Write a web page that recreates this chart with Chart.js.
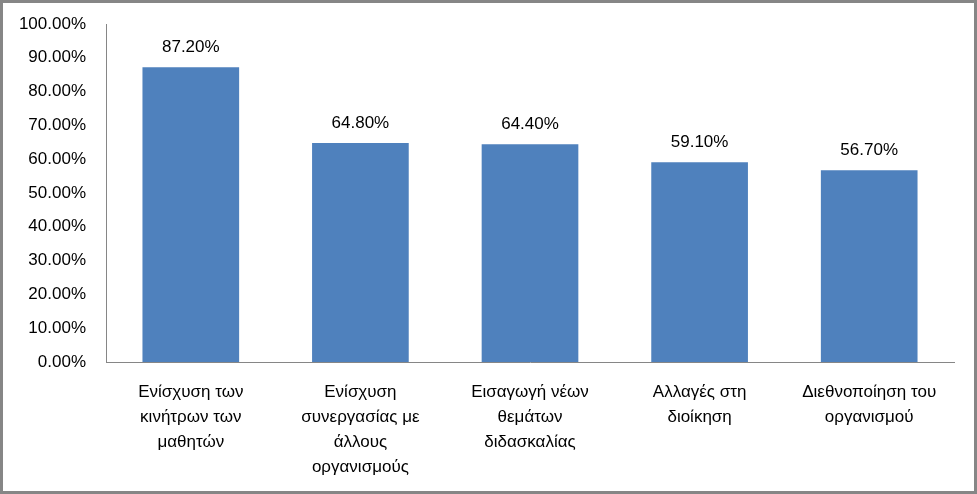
<!DOCTYPE html>
<html><head><meta charset="utf-8">
<script src="https://cdn.jsdelivr.net/npm/chart.js@4"></script>
<style>html,body{margin:0;padding:0;background:#fff}#wrap{width:977px;height:494px;position:relative}</style>
</head><body><div id="wrap"><canvas id="c" width="977" height="494"></canvas></div>
<script>
const categories = [
  ["Ενίσχυση των","κινήτρων των","μαθητών"],
  ["Ενίσχυση","συνεργασίας με","άλλους","οργανισμούς"],
  ["Εισαγωγή νέων","θεμάτων","διδασκαλίας"],
  ["Αλλαγές στη","διοίκηση"],
  ["Διεθνοποίηση του","οργανισμού"]
];
const values = [87.2, 64.8, 64.4, 59.1, 56.7];
const yTicks = [0,10,20,30,40,50,60,70,80,90,100];

const FONT = "'Liberation Sans', Arial, sans-serif";

const labelsPlugin = {
  id: 'valueLabels',
  afterDatasetsDraw(chart) {
    const ctx = chart.ctx;
    const meta = chart.getDatasetMeta(0);
    ctx.save();
    ctx.font = "17px " + FONT;
    ctx.fillStyle = '#000';
    ctx.textAlign = 'center';
    ctx.textBaseline = 'middle';
    meta.data.forEach((bar, i) => {
      ctx.fillText(values[i].toFixed(2) + '%', bar.x, bar.y - 20);
    });
    ctx.restore();
  }
};
const framePlugin = {
  id: 'frame',
  afterDraw(chart) {
    const ctx = chart.ctx;
    ctx.save();
    ctx.strokeStyle = '#868686';
    ctx.lineWidth = 3;
    ctx.strokeRect(1.5, 1.5, chart.width - 3, chart.height - 3);
    ctx.restore();
  }
};

new Chart(document.getElementById('c'), {
  type: 'bar',
  data: {
    labels: categories,
    datasets: [{
      data: values,
      backgroundColor: '#4F81BD',
      categoryPercentage: 1,
      barPercentage: 0.57
    }]
  },
  options: {
    responsive: false,
    animation: false,
    events: [],
    layout: { padding: { top: 24, right: 23, left: 0, bottom: 0 } },
    plugins: { legend: { display: false }, tooltip: { enabled: false } },
    scales: {
      x: {
        grid: { display: false },
        border: { display: true, color: '#868686', width: 1 },
        ticks: { color: '#000', font: { family: FONT, size: 17, lineHeight: 1.47 }, maxRotation: 0, autoSkip: false, padding: 10 },
        afterFit(s) { s.height = 132; }
      },
      y: {
        min: 0, max: 100,
        grid: { display: false },
        border: { display: true, color: '#868686', width: 1 },
        afterBuildTicks(s) { s.ticks = yTicks.map(v => ({ value: v })); },
        ticks: {
          color: '#000', font: { family: FONT, size: 17 }, padding: 12,
          callback: v => v.toFixed(2) + '%'
        },
        afterFit(s) { s.width = 106; s.paddingTop = 0; }
      }
    }
  },
  plugins: [labelsPlugin, framePlugin]
});
</script></body></html>
